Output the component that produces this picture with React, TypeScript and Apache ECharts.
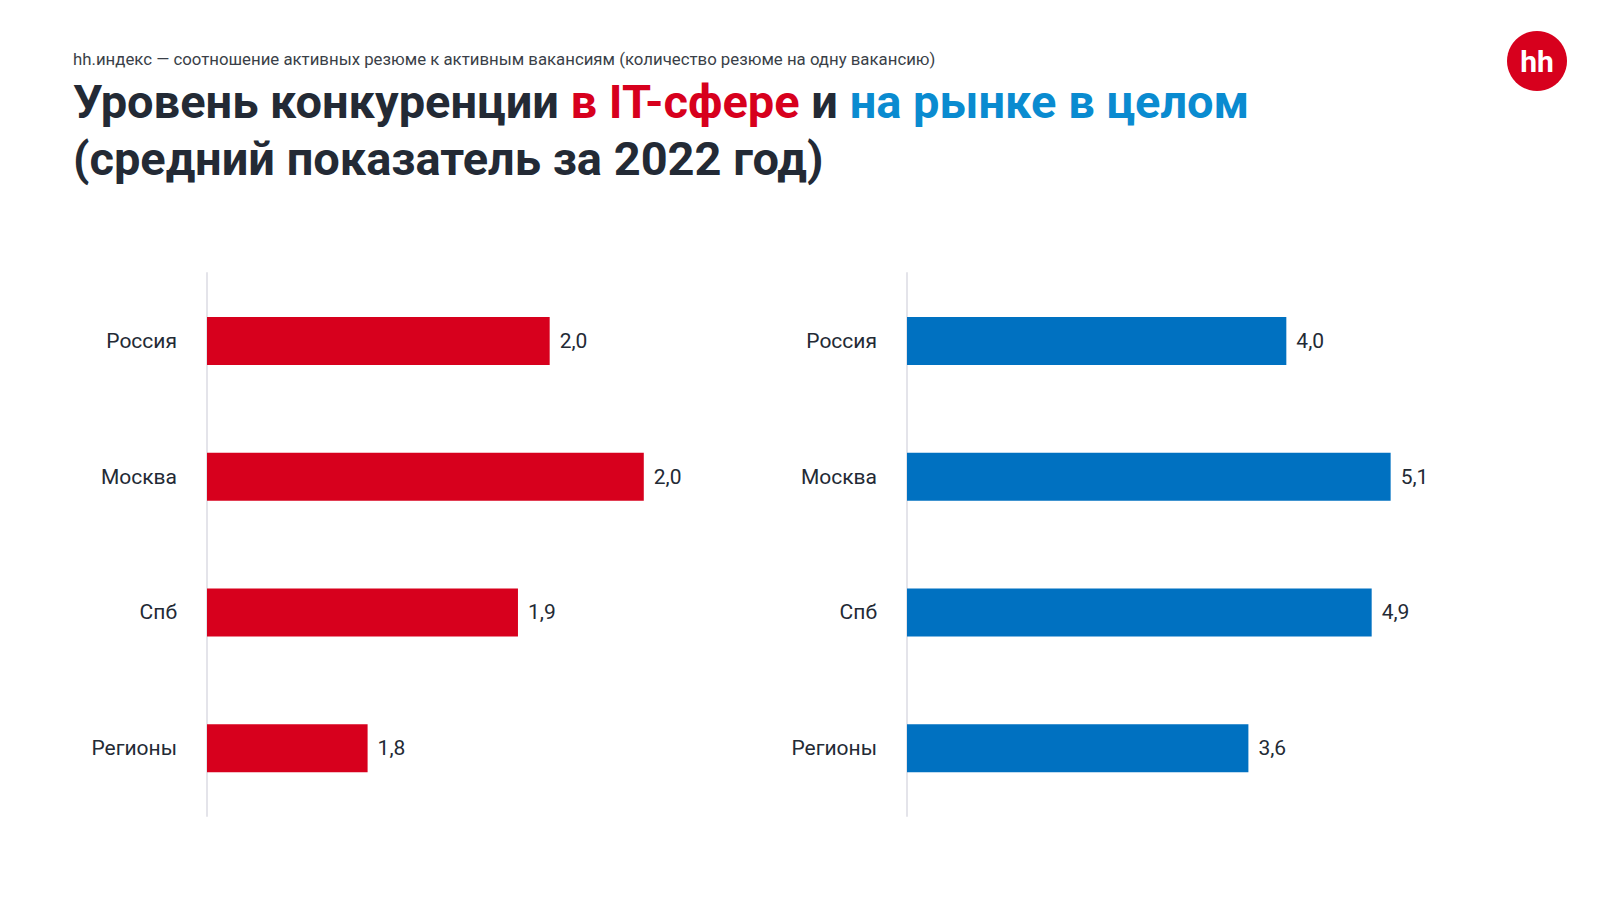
import React, { useEffect, useRef } from "react";
import * as echarts from "echarts";

const categories = ["Россия", "Москва", "Спб", "Регионы"];
// IT-sector values (displayed rounded to one decimal)
const itValues = [1.955, 2.047, 1.924, 1.777];
// Whole market values
const marketValues = [4.0, 5.1, 4.9, 3.6];

const subtitleText = "hh.индекс — соотношение активных резюме к активным вакансиям (количество резюме на одну вакансию)";

const RED = "#d7001d";
const BLUE = "#0071c1";
const DARK = "#232a35";

const fmt = (p: any) => Number(p.value).toFixed(1).replace(".", ",");

export default function App() {
  const ref = useRef<HTMLDivElement>(null);
  useEffect(() => {
    if (!ref.current) return;
    const chart = echarts.init(ref.current, null, { renderer: "svg" });
    const font = "Roboto, 'Noto Sans', sans-serif";
    const yAxisCommon = {
      type: "category" as const,
      data: categories,
      inverse: true,
      axisLine: { show: true, lineStyle: { color: "#e4e4ea", width: 2 } },
      axisTick: { show: false },
      axisLabel: { color: DARK, fontSize: 21, margin: 30, fontFamily: font },
    };
    chart.setOption({
      animation: false,
      backgroundColor: "#ffffff",
      title: [
        {
          text: subtitleText,
          left: 68,
          top: 45,
          textStyle: { fontSize: 16.8, fontWeight: "normal", color: "#3a3f48", fontFamily: font },
        },
        {
          text: "{a|Уровень конкуренции }{r|в IT-сфере}{a| и }{b|на рынке в целом}\n{a|(средний показатель за 2022 год)}",
          left: 68,
          top: 68,
          textStyle: {
            fontFamily: font,
            rich: {
              a: { fontSize: 47, fontWeight: "bold", color: DARK, lineHeight: 57, fontFamily: font },
              r: { fontSize: 47, fontWeight: "bold", color: RED, lineHeight: 57, fontFamily: font },
              b: { fontSize: 47, fontWeight: "bold", color: "#0a8bd0", lineHeight: 57, fontFamily: font },
            },
          },
        },
      ],
      graphic: [
        { type: "circle", shape: { cx: 1537, cy: 61, r: 30 }, style: { fill: RED } },
        {
          type: "text",
          x: 1537,
          y: 61,
          style: {
            text: "hh",
            fill: "#ffffff",
            font: "bold 30px " + font,
            align: "center",
            verticalAlign: "middle",
          },
        },
      ],
      grid: [
        { left: 207, top: 273, width: 491, height: 543 },
        { left: 907, top: 273, width: 569, height: 543 },
      ],
      xAxis: [
        { type: "value", gridIndex: 0, min: 1.62, max: 2.1, show: false },
        { type: "value", gridIndex: 1, min: 0, max: 6, show: false },
      ],
      yAxis: [
        { ...yAxisCommon, gridIndex: 0 },
        { ...yAxisCommon, gridIndex: 1 },
      ],
      series: [
        {
          type: "bar",
          xAxisIndex: 0,
          yAxisIndex: 0,
          data: itValues,
          barWidth: 48,
          itemStyle: { color: RED },
          label: { show: true, position: "right", distance: 10, color: DARK, fontSize: 21, fontFamily: font, formatter: fmt },
        },
        {
          type: "bar",
          xAxisIndex: 1,
          yAxisIndex: 1,
          data: marketValues,
          barWidth: 48,
          itemStyle: { color: BLUE },
          label: { show: true, position: "right", distance: 10, color: DARK, fontSize: 21, fontFamily: font, formatter: fmt },
        },
      ],
    });
    return () => chart.dispose();
  }, []);
  return (
    <div
      ref={ref}
      style={{ position: "absolute", left: 0, top: 0, width: 1600, height: 900 }}
    />
  );
}
